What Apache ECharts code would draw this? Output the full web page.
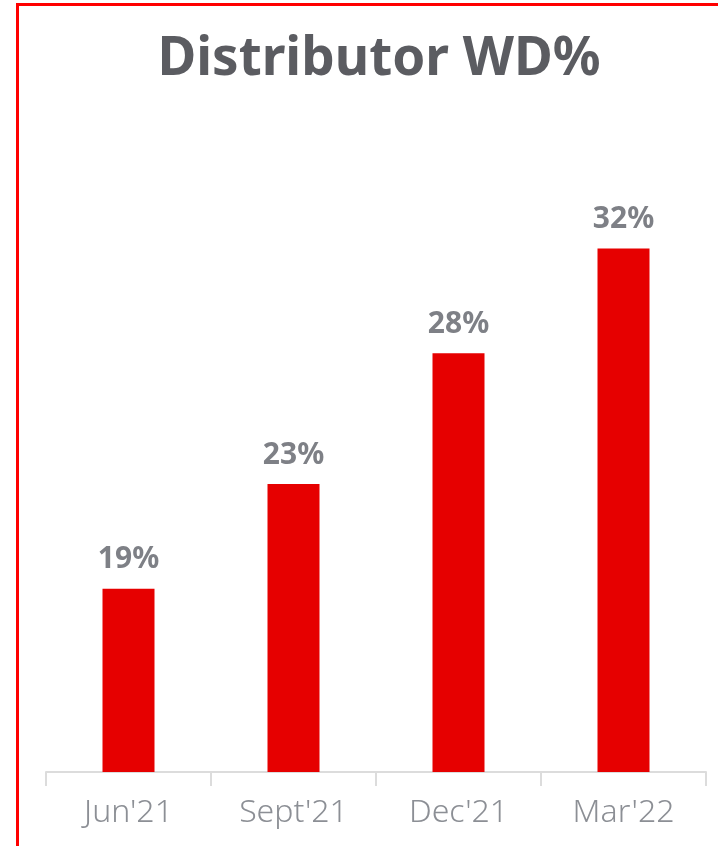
<!DOCTYPE html>
<html>
<head>
<meta charset="utf-8">
<script src="https://cdn.jsdelivr.net/npm/echarts@6/dist/echarts.min.js"></script>
<style>
  html, body { margin: 0; padding: 0; background: #fff; }
  #frame {
    position: absolute;
    left: 16px; top: 3px;
    width: 702px; height: 843px;
    border-left: 3px solid #ff0000;
    border-top: 3px solid #ff0000;
  }
  #chart { position: absolute; left: 0; top: 0; width: 718px; height: 846px; }
</style>
</head>
<body>
<div id="frame"></div>
<div id="chart"></div>
<script>
// 数据
const categories = ["Jun'21", "Sept'21", "Dec'21", "Mar'22"];
const wdValues = [19, 23, 28, 32];

const chart = echarts.init(document.getElementById('chart'));

const option = {
  animation: false,
  title: {
    text: 'Distributor WD%',
    left: 374,
    textAlign: 'center',
    top: 28,
    textStyle: {
      fontFamily: 'Noto Sans',
      fontWeight: 'bold',
      fontSize: 53,
      color: '#5b5c61'
    }
  },
  grid: {
    left: 46,
    right: 12,
    top: 170,
    bottom: 74
  },
  xAxis: {
    type: 'category',
    data: categories,
    axisLine: { lineStyle: { color: '#dcdcdc', width: 2 } },
    axisTick: { show: true, length: 14, lineStyle: { color: '#dcdcdc', width: 2 } },
    axisLabel: {
      margin: 25,
      fontFamily: 'Noto Sans',
      fontWeight: 300,
      fontSize: 32,
      color: '#8c8f95'
    }
  },
  yAxis: {
    type: 'value',
    min: 12,
    max: 35,
    show: false,
    splitLine: { show: false }
  },
  series: [
    {
      type: 'bar',
      data: wdValues,
      barWidth: 52,
      itemStyle: { color: '#e60000' },
      label: {
        show: true,
        position: 'top',
        distance: 14,
        formatter: '{c}%',
        fontFamily: 'Noto Sans',
        fontWeight: 'bold',
        fontSize: 30,
        color: '#7e8086'
      }
    }
  ]
};

chart.setOption(option);
</script>
</body>
</html>
